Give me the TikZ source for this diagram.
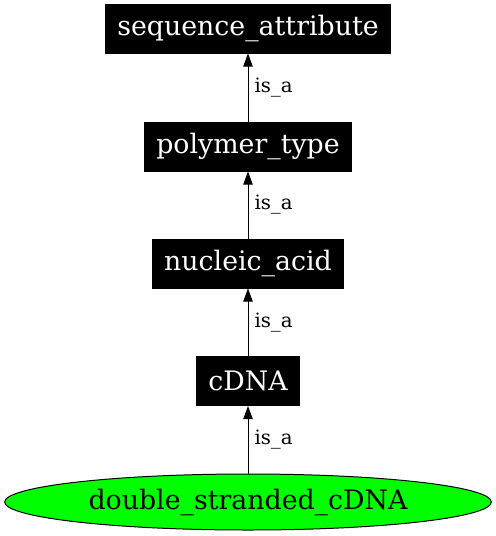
\documentclass[tikz,border=0pt]{standalone}
\usepackage{fontspec}
\setmainfont{DejaVu Serif}
\usetikzlibrary{arrows.meta,shapes.geometric}
\tikzset{
  term/.style={draw=black,fill=black,text=white,line width=0.75pt,
    font=\fontsize{20.1}{23}\selectfont,minimum height=36.75pt,inner xsep=9pt},
  leaf/.style={ellipse,draw=black,fill=green,line width=0.75pt,
    font=\fontsize{20.1}{23}\selectfont,minimum width=365pt,minimum height=42pt,inner sep=0pt},
  isa/.style={line width=0.75pt,-{Triangle[length=9.75pt,width=7pt]}},
  isalabel/.style={right,inner sep=4.5pt,font=\fontsize{14.8}{17}\selectfont}
}
\begin{document}
\begin{tikzpicture}[x=0.75pt,y=-0.75pt]
\useasboundingbox (0,0) rectangle (496,536);
\node[term] (seqattr) at (248,28.5) {sequence\_attribute};
\node[term] (polytype) at (248,146.5) {polymer\_type};
\node[term] (nucacid) at (248,263.5) {nucleic\_acid};
\node[term] (cdna) at (248,381) {cDNA};
\node[leaf] (dscdna) at (248,502) {double\_stranded\_cDNA};
\draw[isa] (polytype) -- node[isalabel] {is\_a} (seqattr);
\draw[isa] (nucacid) -- node[isalabel] {is\_a} (polytype);
\draw[isa] (cdna) -- node[isalabel] {is\_a} (nucacid);
\draw[isa] (dscdna) -- node[isalabel] {is\_a} (cdna);
\end{tikzpicture}
\end{document}
